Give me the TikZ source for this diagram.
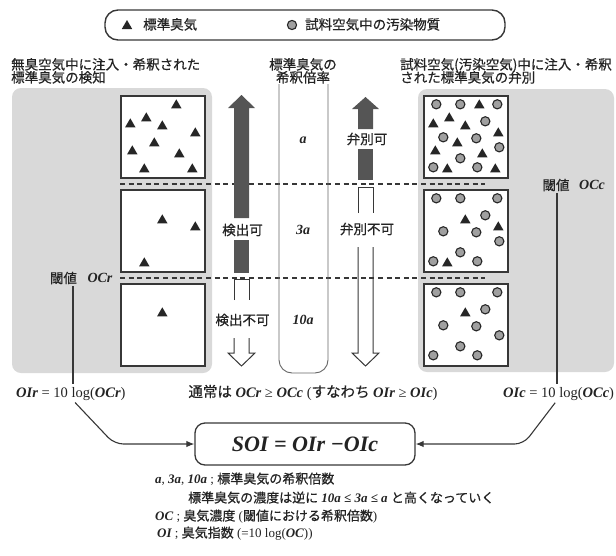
\documentclass[tikz,border=0pt]{standalone}
\usepackage{fontspec}
\setmainfont{Liberation Serif}
\newfontfamily\jpfont[FakeBold=0.6]{Noto Sans CJK JP}
\usetikzlibrary{arrows.meta}
\definecolor{panelgray}{RGB}{217,217,217}
\definecolor{arrowdark}{RGB}{85,85,85}
\definecolor{inkgray}{RGB}{55,55,55}
\definecolor{dotfill}{RGB}{160,160,160}
\definecolor{txt}{RGB}{35,35,35}
\newcommand\bi[1]{{\bfseries\itshape #1}}
\newcommand\fs[1]{\fontsize{#1}{#1}\selectfont}
\newcommand\tripattern{56/9,26/22,10/28,42/30,75/37,34/47,12/55,59/58,24/73,72/73}
\newcommand\dotpattern{13/9,37/9,74/9,62/26,20/42,53/43,76/52,37/63,10/72,54/72}
\begin{document}
\begin{tikzpicture}[x=1pt,y=-1pt,
  panel/.style={fill=panelgray, rounded corners=9pt},
  samplebox/.style={draw=inkgray, line width=1.4pt, fill=white, minimum width=84pt, minimum height=82pt, inner sep=0pt},
  dashline/.style={draw=inkgray, line width=1.2pt, dash pattern=on 5pt off 3.6pt},
  jp/.style={font=\jpfont\fs{13.5}, text=txt, inner sep=0pt},
  note/.style={font=\fs{13}, text=txt, inner sep=0pt},
  lat/.style={font=\fs{14.5}, text=txt, inner sep=0pt},
  darkarrow/.style={fill=arrowdark},
  openarrow/.style={draw=inkgray, line width=1pt, line join=miter},
  tube/.style={draw=black!60, line width=0.9pt, rounded corners=13pt},
  conn/.style={draw=inkgray, line width=1.1pt},
  tri/.pic={\fill[black!85] (0,-5) -- (-5.2,4) -- (5.2,4) -- cycle;},
  dot/.pic={\draw[fill=dotfill, draw=black!85, line width=1.1pt] (0,0) circle (4.6pt);}
]
\useasboundingbox (0,0) rectangle (616,555);

% legend
\node[draw=inkgray, line width=1.4pt, rounded corners=13pt, minimum width=400pt, minimum height=30pt] (legend) at (305,25) {};
\pic at (127,25) {tri};
\node[jp, anchor=base west] (legA) at (143,29.5) {標準臭気};
\pic at (292,25) {dot};
\node[jp, anchor=base west] (legB) at (305,29.5) {試料空気中の汚染物質};

% headings
\node[jp, anchor=base west] (hL1) at (11,69.5) {無臭空気中に注入・希釈された};
\node[jp, anchor=base west] (hL2) at (11,82.5) {標準臭気の検知};
\node[jp, anchor=base] (hC1) at (303,69.5) {標準臭気の};
\node[jp, anchor=base] (hC2) at (303,82.5) {希釈倍率};
\node[jp, anchor=base west] (hR1) at (400,69.5) {試料空気(汚染空気)中に注入・希釈};
\node[jp, anchor=base west] (hR2) at (400,82.5) {された標準臭気の弁別};

% gray panels
\path[panel] (12,88) rectangle (212,373);
\path[panel] (418,89) rectangle (614,372);

% dashed levels
\draw[dashline] (120,184) -- (485,184);
\draw[dashline] (120,278) -- (485,278);

% sample boxes
\node[samplebox] (L1) at (163,137) {};
\node[samplebox] (L2) at (163,231) {};
\node[samplebox] (L3) at (163,325) {};
\node[samplebox] (R1) at (466,137) {};
\node[samplebox] (R2) at (466,231) {};
\node[samplebox] (R3) at (466,325) {};

\foreach \b in {L1,R1} {
  \foreach \dx/\dy in \tripattern {\pic at ([shift={(\dx,\dy)}]\b.north west) {tri};}
}
\foreach \b in {L2,R2} {
  \foreach \dx/\dy in {42/30,75/37,24/73} {\pic at ([shift={(\dx,\dy)}]\b.north west) {tri};}
}
\foreach \b in {L3,R3} {\pic at ([shift={(42,29)}]\b.north west) {tri};}
\foreach \b in {R1,R2,R3} {
  \foreach \dx/\dy in \dotpattern {\pic at ([shift={(\dx,\dy)}]\b.north west) {dot};}
}

% test tube with dilution factors
\draw[tube] (279,84) -- (279,373) -- (328,373) -- (328,84);
\node[lat, font=\fs{14}\bfseries\itshape] (fa) at (303,140) {a};
\node[lat, font=\fs{14}\bfseries\itshape] (f3a) at (303,230) {3a};
\node[lat, font=\fs{14}\bfseries\itshape] (f10a) at (303,320) {10a};

% detection arrows (left)
\fill[darkarrow] (234,218) -- (234,108) -- (228,108) -- (241.5,95) -- (255,108) -- (249,108) -- (249,218) -- cycle;
\fill[darkarrow] (234,240) rectangle (249,273);
\node[jp] (det) at (242.5,230) {検出可};
\draw[openarrow] (234,300) -- (234,279.5) -- (249,279.5) -- (249,300);
\node[jp] (nodet) at (242.5,320) {検出不可};
\draw[openarrow] (234,338) -- (234,353) -- (228,353) -- (241.5,366) -- (255,353) -- (249,353) -- (249,338);

% discrimination arrows (right)
\fill[darkarrow] (358,129) -- (358,109) -- (352,109) -- (365.5,97) -- (379,109) -- (373,109) -- (373,129) -- cycle;
\fill[darkarrow] (358,149) rectangle (373,180);
\node[jp] (dis) at (367,139) {弁別可};
\draw[openarrow] (358,213) -- (358,187.5) -- (373,187.5) -- (373,213);
\node[jp] (nodis) at (367,229) {弁別不可};
\draw[openarrow] (358,247) -- (358,353) -- (352,353) -- (365.5,366) -- (379,353) -- (373,353) -- (373,247);

% thresholds
\node[jp] (thL) at (63.5,278) {閾値};
\node[lat, font=\fs{14}\bfseries\itshape] (ocrL) at (100,278) {OCr};
\node[jp] (thR) at (556,185) {閾値};
\node[lat, font=\fs{14}\bfseries\itshape] (occR) at (592,185) {OCc};

% formulas under panels
\node[lat, anchor=base west] (oirL) at (16,397) {\bi{OIr} = 10 log(\bi{OCr})};
\node[lat, anchor=base] (mid) at (313,397) {{\jpfont 通常は} \bi{OCr} ≥ \bi{OCc} ({\jpfont すなわち} \bi{OIr} ≥ \bi{OIc})};
\node[lat, anchor=base west] (oicR) at (503,397) {\bi{OIc} = 10 log(\bi{OCc})};

% SOI box
\node[draw=inkgray, line width=1.3pt, rounded corners=10pt, minimum width=220pt, minimum height=42pt, font=\fs{22}, text=txt] (soi) at (305,444) {\bi{SOI = OIr −OIc}};

% connectors
\coordinate (xl) at (73,0);
\coordinate (xr) at (557,0);
\draw[conn, shorten <=2pt, shorten >=3pt] (xl |- thL.south) -- (xl |- oirL.north);
\draw[conn, shorten <=2pt, shorten >=3pt] (xr |- thR.south) -- (xr |- oicR.north);
\draw[conn, rounded corners=9pt, shorten <=3pt, -{Latex[length=8pt,width=6.5pt]}] (xl |- oirL.south) -- ([xshift=-80pt]soi.west) -- (soi.west);
\draw[conn, rounded corners=9pt, shorten <=3pt, -{Latex[length=8pt,width=6.5pt]}] (xr |- oicR.south) -- ([xshift=108pt]soi.east) -- (soi.east);

% notes
\node[note, anchor=base west] (n1) at (155,483.5) {\bi{a}, \bi{3a}, \bi{10a} ; {\jpfont 標準臭気の希釈倍数}};
\node[note, anchor=base west] (n2) at (188,502.5) {{\jpfont 標準臭気の濃度は逆に} \bi{10a ≤ 3a ≤ a} {\jpfont と高くなっていく}};
\node[note, anchor=base west] (n3) at (155,520.5) {\bi{OC} ; {\jpfont 臭気濃度} ({\jpfont 閾値における希釈倍数})};
\node[note, anchor=base west] (n4) at (157,537.5) {\bi{OI} ; {\jpfont 臭気指数} (=10 log(\bi{OC}))};
\end{tikzpicture}
\end{document}
